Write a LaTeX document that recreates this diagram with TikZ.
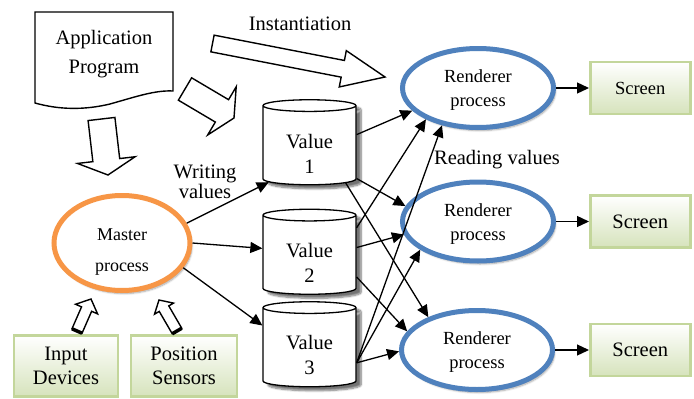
\documentclass[tikz,border=0pt]{standalone}
\usepackage{fontspec}
\setmainfont{Liberation Serif}
\usepackage{tikz}
\usetikzlibrary{
  arrows.meta,
  positioning,
  shapes.geometric,
  calc,
  shadows.blur
}
\definecolor{rendblue}{RGB}{79,129,189}
\definecolor{masterorange}{RGB}{247,150,70}
\definecolor{screenline}{RGB}{195,214,155}
\definecolor{screenfill}{RGB}{214,227,188}
\tikzset{
  procbox/.style={ellipse, fill=white, line width=5pt,
    align=center, inner sep=0pt,
    blur shadow={shadow xshift=2pt, shadow yshift=-3pt,
      shadow blur steps=6, shadow opacity=35}},
  rendbox/.style={procbox, draw=rendblue,
    minimum width=151pt, minimum height=79pt,
    font=\fontsize{18.5}{24}\selectfont},
  masterbox/.style={procbox, draw=masterorange,
    minimum width=136pt, minimum height=95pt,
    font=\fontsize{18}{31}\selectfont},
  greenbox/.style={draw=screenline, line width=2.5pt,
    top color=white, bottom color=screenfill,
    align=center, inner sep=0pt,
    font=\fontsize{20.5}{24}\selectfont},
  valuebox/.style={cylinder, shape border rotate=90, aspect=0.25,
    draw, line width=1.3pt, fill=white,
    minimum width=93pt, minimum height=85pt,
    align=center, inner sep=0pt,
    font=\fontsize{20.5}{25}\selectfont,
    blur shadow={shadow xshift=5pt, shadow yshift=-4pt,
      shadow blur steps=8, shadow opacity=55}},
  arr/.style={-{Triangle[length=12pt, width=11pt]}, line width=1.3pt},
  fatline/.style={draw, line width=1.4pt, fill=white, line join=miter},
  lbl/.style={align=center, font=\fontsize{20.5}{20}\selectfont},
}
% hollow block arrow: tail, tip, shaft half width, head half width, head length
\newcommand{\fatarrow}[5]{%
  \coordinate (hb) at ($(#2)!#5!(#1)$);
  \draw[fatline] ($(#1)!#3!90:(#2)$) -- ($(hb)!#3!-90:(#1)$)
    -- ($(hb)!#4!-90:(#1)$) -- (#2) -- ($(hb)!#4!90:(#1)$)
    -- ($(hb)!#3!90:(#1)$) -- ($(#1)!#3!-90:(#2)$) -- cycle;}

\begin{document}
\begin{tikzpicture}[x=1pt, y=-1pt]
  \useasboundingbox (0,0) rectangle (694,399);

  % Application program
  \draw[line width=1.4pt, fill=white] (35,12) -- (173,12) -- (173,91)
    .. controls (155,90) and (135,97) .. (110,104)
    .. controls (85,110) and (60,110) .. (35,103) -- cycle;
  \node[align=center, font=\fontsize{20.5}{29}\selectfont] (app) at (104,54)
    {Application\\Program};

  % Processes
  \node[masterbox] (master) at (122,243) {\rule{0pt}{29pt}Master\\process};
  \node[rendbox] (r1) at (478,88) {\rule{0pt}{17pt}Renderer\\process};
  \node[rendbox] (r2) at (478,221.5) {\rule{0pt}{17pt}Renderer\\process};
  \node[rendbox] (r3) at (477,350) {\rule{0pt}{17pt}Renderer\\process};

  % Shared values
  \node[valuebox] (v1) at (309.5,145.5) {\rule{0pt}{30pt}Value\\1};
  \node[valuebox] (v2) at (309.5,255) {\rule{0pt}{30pt}Value\\2};
  \node[valuebox] (v3) at (309.5,347.5) {\rule{0pt}{30pt}Value\\3};

  % Screens and inputs
  \node[greenbox, minimum width=100pt, minimum height=52pt,
        font=\fontsize{18.5}{24}\selectfont, right=33pt of r1] (s1) {Screen};
  \node[greenbox, minimum width=100pt, minimum height=52pt, right=33pt of r2] (s2) {Screen};
  \node[greenbox, minimum width=100pt, minimum height=52pt, right=34pt of r3] (s3) {Screen};
  \node[greenbox, minimum width=104pt, minimum height=61pt] (inp) at (66,366) {Input\\Devices};
  \node[greenbox, minimum width=106pt, minimum height=61pt] (pos) at (184,366) {Position\\Sensors};

  % Block arrows
  \coordinate (insttail) at (212.5,43.5);
  \coordinate (insttip) at (385,77);
  \coordinate (apptail) at (185,89);
  \coordinate (apptip) at (234,118);
  \coordinate (downtail) at (101.5,119);
  \coordinate (downtip) at (108,175);
  \coordinate (inptail) at (77,331);
  \coordinate (inptip) at (91,299);
  \coordinate (postail) at (177,331);
  \coordinate (postip) at (159,300);
  \fatarrow{insttail}{insttip}{8.5pt}{18.5pt}{43pt}
  \fatarrow{apptail}{apptip}{13pt}{28pt}{14pt}
  \fatarrow{downtail}{downtip}{13.5pt}{29pt}{15pt}
  \fatarrow{inptail}{inptip}{5.5pt}{12pt}{11pt}
  \fatarrow{postail}{postip}{5.5pt}{11pt}{10pt}
  \draw[line width=3.5pt] ($(inptail)!5.5pt!90:(inptip)$) -- ($(inptail)!5.5pt!-90:(inptip)$);
  \draw[line width=3.5pt] ($(postail)!5.5pt!90:(postip)$) -- ($(postail)!5.5pt!-90:(postip)$);

  % Arrows
  \draw[arr] (master.17) -- (v1.222);
  \draw[arr] (master.0) -- (v2.172);
  \draw[arr] (master.-22) -- (v3.155);
  \draw[arr] (v1.13) -- (r1.199);
  \draw[arr] (v1.-35) -- (r2.168);
  \draw[arr] (v1.-46) -- (r3.146);
  \draw[arr] (v2.30) -- (r1.211);
  \draw[arr] (v2.9) -- (r2.190);
  \draw[arr] (v2.-25) -- (r3.165);
  \draw[arr] (v3.-18) -- (r1.226);
  \draw[arr] (v3.-18) -- (r2.206);
  \draw[arr] (v3.-18) -- (r3.181);
  \draw[arr] (r1) -- (s1);
  \draw[arr] (r2) -- (s2);
  \draw[arr] (r3) -- (s3);

  % Labels
  \node[lbl] (inst) at (300,24) {Instantiation};
  \node[lbl] (writing) at (205,182) {Writing\\values};
  \node[lbl] (reading) at (497,160) {Reading values};
\end{tikzpicture}
\end{document}
